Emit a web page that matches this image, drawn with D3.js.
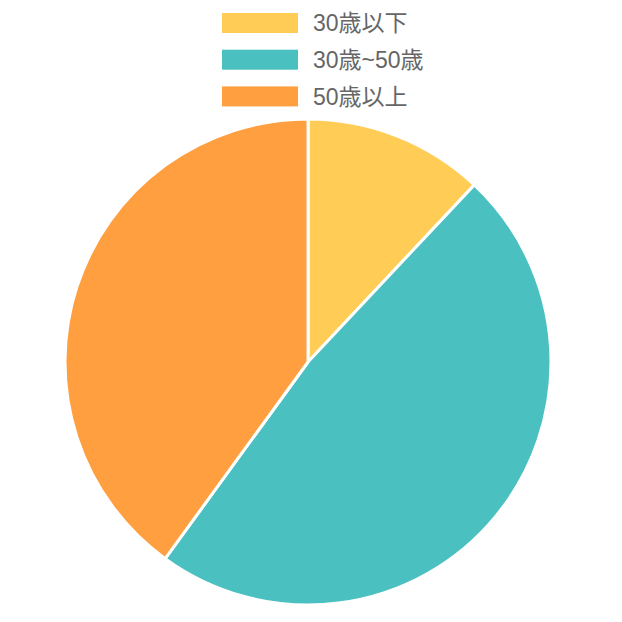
<!DOCTYPE html>
<html>
<head>
<meta charset="utf-8">
<script src="https://cdn.jsdelivr.net/npm/d3@7"></script>
<style>
  body { margin: 0; background: #fff; }
  text { font-family: "Liberation Sans", Arial, "Noto Sans CJK JP", sans-serif; }
</style>
</head>
<body>
<div id="chart"></div>
<script>
const labels = ["30歳以下", "30歳~50歳", "50歳以上"];
const values = [12, 48, 40];
const colors = ["#FFCD56", "#4BC0C0", "#FF9F40"];

let width = 622,
    height = 622,
    cx = 308,
    cy = 362,
    radius = 243;

const svg = d3
    .select("#chart")
    .append("svg")
    .attr("width", width)
    .attr("height", height)
    .attr("viewBox", [0, 0, width, height]);

const color = d3.scaleOrdinal(labels, colors);

// legend, one row per label
const legend = svg.append("g").selectAll("g")
    .data(labels)
    .join("g")
    .attr("transform", (d, i) => `translate(222,${13 + i * 36.7})`);

legend.append("rect")
    .attr("width", 76)
    .attr("height", 20)
    .attr("fill", (d) => color(d));

legend.append("text")
    .attr("x", 91)
    .attr("y", 10)
    .attr("dy", "0.36em")
    .style("font-size", "23px")
    .style("fill", "#666")
    .text((d) => d);

// pie
const pie = d3.pie().sort(null).value((d, i) => values[i]);
const arc = d3.arc().innerRadius(0).outerRadius(radius);

svg.append("g")
    .attr("transform", `translate(${cx},${cy})`)
    .selectAll("path")
    .data(pie(labels))
    .join("path")
    .attr("d", arc)
    .attr("fill", (d) => color(d.data))
    .attr("stroke", "#fff")
    .attr("stroke-width", 3)
    .attr("stroke-linejoin", "round");
</script>
</body>
</html>
